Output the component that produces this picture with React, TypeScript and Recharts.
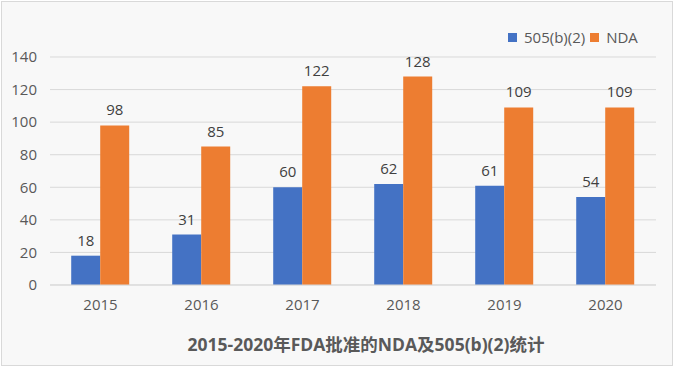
import React from "react";
import { BarChart, Bar, XAxis, YAxis, CartesianGrid, LabelList } from "recharts";

const years = ["2015", "2016", "2017", "2018", "2019", "2020"];
const b505 = [18, 31, 60, 62, 61, 54];
const nda = [98, 85, 122, 128, 109, 109];
const yTicks = [0, 20, 40, 60, 80, 100, 120, 140];

const data = years.map((year, i) => ({ year, b505: b505[i], nda: nda[i] }));

const FONT = '"Open Sans", "Noto Sans CJK SC", sans-serif';
const BLUE = "#4472C4";
const ORANGE = "#ED7D31";

function LegendBox() {
  const item = (color: string, label: string) => (
    <span style={{ display: "inline-flex", alignItems: "center", marginRight: 5 }}>
      <span style={{ width: 9, height: 9, background: color, display: "inline-block", marginRight: 7 }} />
      <span>{label}</span>
    </span>
  );
  return (
    <div
      style={{
        position: "absolute",
        left: 508,
        top: 28,
        fontSize: 15,
        lineHeight: "18px",
        color: "#595959",
        fontFamily: FONT,
        display: "flex",
        whiteSpace: "nowrap",
      }}
    >
      {item(BLUE, "505(b)(2)")}
      {item(ORANGE, "NDA")}
    </div>
  );
}

export default function App() {
  return (
    <div style={{ position: "absolute", left: 0, top: 0, width: 674, height: 366 }}>
      <div
        style={{
          position: "absolute",
          left: 1,
          top: 1,
          width: 672,
          height: 365,
          boxSizing: "border-box",
          border: "1px solid #d9d9d9",
          background: "#f8f8f8",
        }}
      />
      <div style={{ position: "absolute", left: 0, top: 0 }}>
        <BarChart
          width={674}
          height={366}
          data={data}
          margin={{ top: 57, right: 18, left: 0, bottom: 51 }}
          barCategoryGap="21%"
          barGap={0}
        >
          <CartesianGrid vertical={false} stroke="#d9d9d9" />
          <XAxis
            dataKey="year"
            tickLine={false}
            axisLine={{ stroke: "#d9d9d9" }}
            tick={{ fontSize: 15, fill: "#595959", fontFamily: FONT }}
            tickMargin={8}
            height={30}
          />
          <YAxis
            width={50}
            domain={[0, 140]}
            ticks={yTicks}
            axisLine={false}
            tickLine={false}
            tick={{ fontSize: 15, fill: "#595959", fontFamily: FONT }}
            tickMargin={7}
          />
          <Bar dataKey="b505" fill={BLUE} isAnimationActive={false}>
            <LabelList dataKey="b505" position="top" offset={10} style={{ fontSize: 15, fill: "#404040", fontFamily: FONT }} />
          </Bar>
          <Bar dataKey="nda" fill={ORANGE} isAnimationActive={false}>
            <LabelList dataKey="nda" position="top" offset={10} style={{ fontSize: 15, fill: "#404040", fontFamily: FONT }} />
          </Bar>
        </BarChart>
      </div>
      <LegendBox />
      <div
        style={{
          position: "absolute",
          left: 0,
          width: 732,
          top: 335,
          lineHeight: "18px",
          textAlign: "center",
          fontSize: 17.5,
          fontWeight: "bold",
          color: "#595959",
          fontFamily: FONT,
        }}
      >
        2015-2020年FDA批准的NDA及505(b)(2)统计
      </div>
    </div>
  );
}
